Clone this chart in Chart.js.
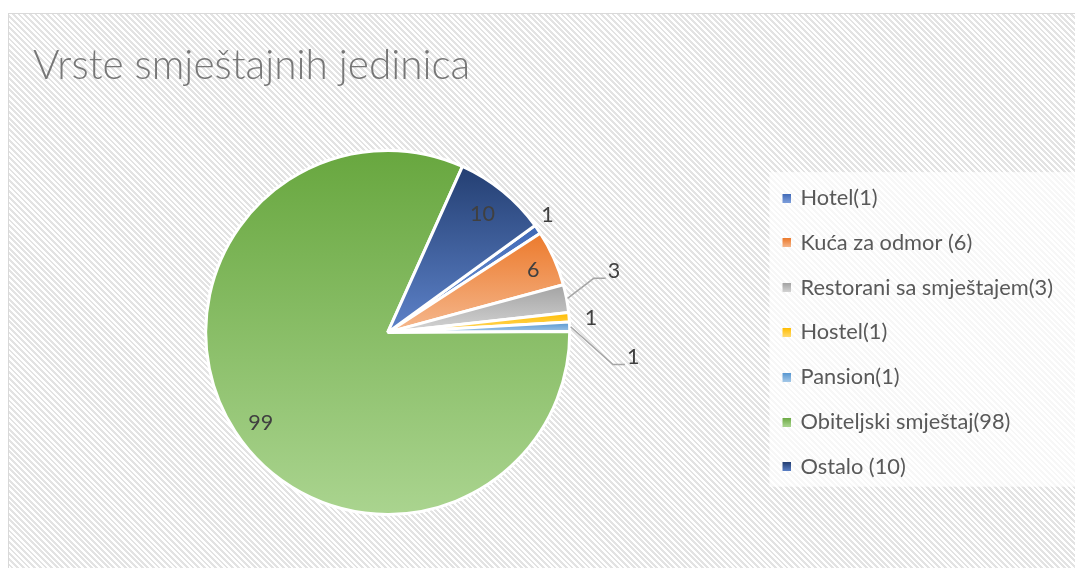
<!DOCTYPE html>
<html>
<head>
<meta charset="utf-8">
<script src="https://cdn.jsdelivr.net/npm/chart.js@4.4.0/dist/chart.umd.min.js"></script>
<style>
  html, body { margin: 0; padding: 0; background: #fff; overflow: hidden; }
  #frame {
    position: absolute; left: 8px; top: 13px; width: 1100px; height: 600px;
    border: 1px solid #d9d9d9;
    background: repeating-linear-gradient(45deg, #ffffff 0px, #ffffff 2px, #e3e3e3 2px, #e3e3e3 4px);
  }
  #wrap { position: absolute; left: 0; top: 0; width: 1075px; height: 568px; }
</style>
</head>
<body>
<div id="frame"></div>
<div id="wrap"><canvas id="pie" width="1075" height="568"></canvas></div>
<script>
// data
const chartTitle = 'Vrste smještajnih jedinica';
const categories = ['Hotel(1)', 'Kuća za odmor (6)', 'Restorani sa smještajem(3)', 'Hostel(1)', 'Pansion(1)', 'Obiteljski smještaj(98)', 'Ostalo (10)'];
const counts = [1, 6, 3, 1, 1, 99, 10];

// slice colours, gradient from top to bottom
const topColors = ['#3d67b5', '#ec7a2c', '#a3a3a3', '#ffbd00', '#5595d0', '#68a73f', '#243f72'];
const bottomColors = ['#7d9edb', '#f5b88e', '#d4d4d4', '#ffda70', '#a4c8e8', '#aad48f', '#5d82c9'];

const fontFamily = 'Lato, "Open Sans", sans-serif';
const labelFontSize = 21.5;
const legendFontSize = 21.8;

// where each data label sits (angle offset in degrees, radius factor) or a leader line
const labelPlacement = [
  { da: -1.9, r: 1.09 },
  { da: 0.8, r: 0.87 },
  { leader: { angle: 75.3, r: 1.17, run: 12 } },
  { da: 0.6, r: 1.12 },
  { leader: { angle: 98.1, r: 1.25, run: 12 } },
  { da: -2.5, r: 0.857 },
  { da: -0.5, r: 0.835 }
];

// small gradient squares for the legend, pushed to the right of a wider image
function makeMarker(i) {
  const c = document.createElement('canvas');
  c.width = 28; c.height = 9;
  const cx = c.getContext('2d');
  const g = cx.createLinearGradient(0, 0, 0, 9);
  g.addColorStop(0, topColors[i]);
  g.addColorStop(1, bottomColors[i]);
  cx.fillStyle = g;
  cx.fillRect(19, 0, 9, 9);
  return c;
}
const markers = categories.map((c, i) => makeMarker(i));

const legendBackground = {
  id: 'legendBackground',
  beforeDraw(chart) {
    const lg = chart.legend;
    const hb = lg.legendHitBoxes;
    if (!hb || !hb.length) return;
    const ctx = chart.ctx;
    const last = hb[hb.length - 1];
    const y0 = hb[0].top - 15;
    const y1 = last.top + last.height + 9;
    const x0 = lg.left + 27;
    ctx.save();
    ctx.fillStyle = 'rgba(255,255,255,0.7)';
    ctx.fillRect(x0, y0, chart.width - x0, y1 - y0);
    ctx.restore();
  }
};

const sliceGradient = {
  id: 'sliceGradient',
  beforeDatasetsDraw(chart) {
    const ctx = chart.ctx;
    chart.getDatasetMeta(0).data.forEach((arc, i) => {
      const p = arc.getProps(['x', 'y', 'startAngle', 'endAngle', 'outerRadius'], true);
      let top = p.y, bottom = p.y;
      for (let k = 0; k <= 60; k++) {
        const a = p.startAngle + (p.endAngle - p.startAngle) * k / 60;
        const yy = p.y + Math.sin(a) * p.outerRadius;
        top = Math.min(top, yy);
        bottom = Math.max(bottom, yy);
      }
      const g = ctx.createLinearGradient(0, top, 0, bottom);
      g.addColorStop(0, topColors[i]);
      g.addColorStop(1, bottomColors[i]);
      arc.options = Object.assign({}, arc.options, { backgroundColor: g });
    });
  }
};

const dataLabels = {
  id: 'dataLabels',
  afterDatasetsDraw(chart) {
    const ctx = chart.ctx;
    ctx.save();
    ctx.font = labelFontSize + 'px ' + fontFamily;
    ctx.fillStyle = '#404040';
    ctx.strokeStyle = '#a6a6a6';
    ctx.lineWidth = 1.5;
    ctx.textBaseline = 'middle';
    chart.getDatasetMeta(0).data.forEach((arc, i) => {
      const p = arc.getProps(['x', 'y', 'startAngle', 'endAngle', 'outerRadius'], true);
      const mid = (p.startAngle + p.endAngle) / 2;
      const pl = labelPlacement[i];
      const txt = String(chart.data.datasets[0].data[i]);
      if (pl.leader) {
        const sx = p.x + Math.cos(mid) * (p.outerRadius + 1);
        const sy = p.y + Math.sin(mid) * (p.outerRadius + 1);
        const ea = (pl.leader.angle - 90) * Math.PI / 180;
        const ex = p.x + Math.cos(ea) * p.outerRadius * pl.leader.r;
        const ey = p.y + Math.sin(ea) * p.outerRadius * pl.leader.r;
        ctx.beginPath();
        ctx.moveTo(sx, sy);
        ctx.lineTo(ex, ey);
        ctx.lineTo(ex + pl.leader.run, ey);
        ctx.stroke();
        ctx.textAlign = 'left';
        ctx.fillText(txt, ex + pl.leader.run + 2, ey - 7);
      } else {
        const a = mid + pl.da * Math.PI / 180;
        ctx.textAlign = 'center';
        ctx.fillText(txt, p.x + Math.cos(a) * p.outerRadius * pl.r, p.y + Math.sin(a) * p.outerRadius * pl.r);
      }
    });
    ctx.restore();
  }
};

new Chart(document.getElementById('pie'), {
  type: 'pie',
  data: {
    labels: categories,
    datasets: [{
      data: counts,
      backgroundColor: topColors,
      borderColor: '#ffffff',
      borderWidth: 3
    }]
  },
  options: {
    responsive: false,
    devicePixelRatio: 1,
    animation: false,
    radius: 182,
    rotation: 54,
    layout: { padding: { left: 33, right: 12, top: 0, bottom: 3.2 } },
    plugins: {
      tooltip: { enabled: false },
      title: {
        display: true,
        text: chartTitle,
        align: 'start',
        color: '#777777',
        font: { family: fontFamily, size: 40.5, weight: 300, lineHeight: 1.2 },
        padding: { top: 42, bottom: 9.4 }
      },
      legend: {
        position: 'right',
        fullSize: false,
        maxWidth: 332,
        labels: {
          usePointStyle: true,
          pointStyleWidth: 24.1,
          padding: 44.8 - legendFontSize,
          color: '#595959',
          font: { family: fontFamily, size: legendFontSize },
          generateLabels(chart) {
            return chart.data.labels.map((text, i) => ({
              text: text,
              fillStyle: topColors[i],
              strokeStyle: 'rgba(0,0,0,0)',
              lineWidth: 0,
              pointStyle: markers[i],
              fontColor: '#595959',
              hidden: !chart.getDataVisibility(i),
              index: i
            }));
          }
        }
      }
    }
  },
  plugins: [legendBackground, sliceGradient, dataLabels]
});
</script>
</body>
</html>
